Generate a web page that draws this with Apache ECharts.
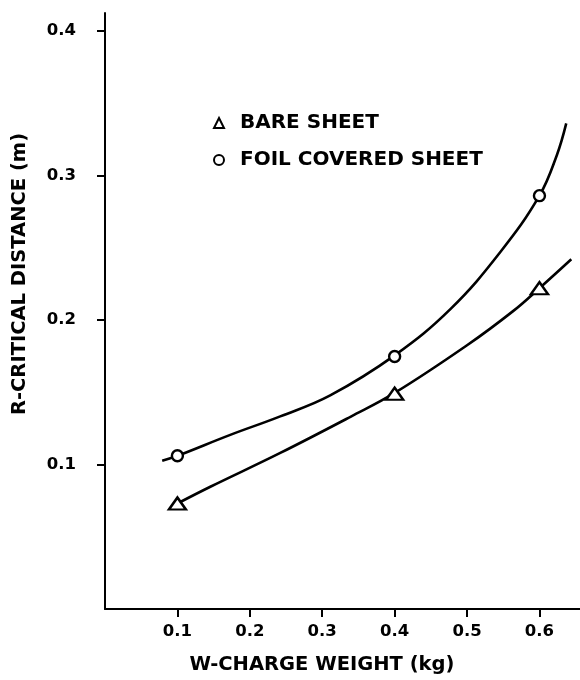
<!DOCTYPE html>
<html>
<head>
<meta charset="utf-8">
<script src="https://cdn.jsdelivr.net/npm/echarts@6/dist/echarts.min.js"></script>
<style>
html,body{margin:0;padding:0;background:#fff;}
#chart{width:580px;height:680px;}
</style>
</head>
<body>
<div id="chart"></div>
<script>
// Tick values
const xTicks = [0.1, 0.2, 0.3, 0.4, 0.5, 0.6];
const yTicks = [0.1, 0.2, 0.3, 0.4];

// Measured points (markers)
const bareX = [0.1, 0.4, 0.6];
const bareY = [0.073, 0.149, 0.222];
const foilX = [0.1, 0.4, 0.6];
const foilY = [0.106, 0.1747, 0.286];

// Points
const bareCurveX = [0.1, 0.1455, 0.2421, 0.339, 0.4, 0.5, 0.564, 0.6, 0.644];
const bareCurveY = [0.073, 0.0846, 0.108, 0.133, 0.1495, 0.1825, 0.2063, 0.222, 0.242];
const foilCurveX = [0.079, 0.1, 0.173, 0.242, 0.311, 0.4, 0.477, 0.546, 0.6, 0.624, 0.637];
const foilCurveY = [0.1025, 0.106, 0.1205, 0.1333, 0.1478, 0.1755, 0.2075, 0.247, 0.286, 0.314, 0.336];

const pairs = (xs, ys) => xs.map((x, i) => [x, ys[i]]);
const FONT = 'DejaVu Sans';

const chart = echarts.init(document.getElementById('chart'), null, {renderer: 'canvas'});
chart.setOption({
  animation: false,
  backgroundColor: '#fff',
  grid: {left: 105, right: 0, top: 13, bottom: 68},
  legend: {
    orient: 'vertical',
    left: 208,
    top: 108,
    itemWidth: 10,
    itemHeight: 10,
    itemGap: 17,
    data: [
      {name: 'BARE SHEET', icon: 'triangle'},
      {name: 'FOIL COVERED SHEET', icon: 'circle'}
    ],
    textStyle: {fontFamily: FONT, fontWeight: 'bold', fontSize: 20, color: '#000', padding: [0, 0, 0, 11]},
    selectedMode: false
  },
  xAxis: {
    type: 'value', min: 0, max: 0.656,
    name: 'W-CHARGE WEIGHT (kg)', nameLocation: 'middle', nameGap: 46,
    nameTextStyle: {fontFamily: FONT, fontWeight: 'bold', fontSize: 19.5, color: '#000', padding: [0, 41, 0, 0]},
    axisLine: {lineStyle: {color: '#000', width: 2}},
    axisTick: {customValues: xTicks, length: 8, lineStyle: {color: '#000', width: 2}},
    axisLabel: {customValues: xTicks, margin: 14, fontFamily: FONT, fontWeight: 'bold', fontSize: 16.5, color: '#000',
      formatter: v => v.toFixed(1)},
    splitLine: {show: false}
  },
  yAxis: {
    type: 'value', min: 0, max: 0.4124,
    name: 'R-CRITICAL DISTANCE (m)', nameLocation: 'middle', nameGap: 75, nameRotate: 90,
    nameTextStyle: {fontFamily: FONT, fontWeight: 'bold', fontSize: 19.5, color: '#000', padding: [0, 0, 0, 74]},
    axisLine: {lineStyle: {color: '#000', width: 2}},
    axisTick: {customValues: yTicks, length: 8, lineStyle: {color: '#000', width: 2}},
    axisLabel: {customValues: yTicks, margin: 29, fontFamily: FONT, fontWeight: 'bold', fontSize: 16.5, color: '#000',
      formatter: v => v.toFixed(1)},
    splitLine: {show: false}
  },
  series: [
    {
      name: 'bareCurve', type: 'line', data: pairs(bareCurveX, bareCurveY),
      smooth: 0.4, showSymbol: false, symbol: 'none',
      lineStyle: {color: '#000', width: 2.6}, z: 2, silent: true
    },
    {
      name: 'foilCurve', type: 'line', data: pairs(foilCurveX, foilCurveY),
      smooth: 0.4, showSymbol: false, symbol: 'none',
      lineStyle: {color: '#000', width: 2.6}, z: 2, silent: true
    },
    {
      name: 'BARE SHEET', type: 'scatter', data: pairs(bareX, bareY),
      symbol: 'triangle', symbolSize: [17, 12],
      itemStyle: {color: '#fff', borderColor: '#000', borderWidth: 2.4, opacity: 1}, z: 5
    },
    {
      name: 'FOIL COVERED SHEET', type: 'scatter', data: pairs(foilX, foilY),
      symbol: 'circle', symbolSize: 11,
      itemStyle: {color: '#fff', borderColor: '#000', borderWidth: 2.4, opacity: 1}, z: 5
    }
  ]
});
</script>
</body>
</html>
